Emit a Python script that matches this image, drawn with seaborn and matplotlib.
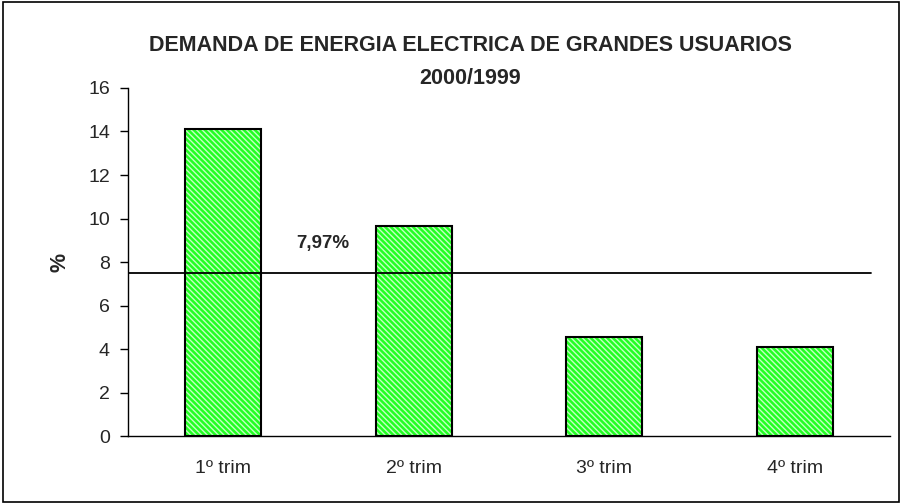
import pandas as pd
import seaborn as sns
import matplotlib.pyplot as plt
from matplotlib.patches import Rectangle

sns.set_theme(style="white")
plt.rcParams["font.family"] = ["Liberation Sans", "DejaVu Sans"]
plt.rcParams["hatch.linewidth"] = 1.0

## Data
trimestres = ["1º trim", "2º trim", "3º trim", "4º trim"]
variacion = [14.1, 9.65, 4.55, 4.1]
promedio_linea = 7.5
promedio_texto = "7,97%"

df = pd.DataFrame({"Trimestre": trimestres, "Variacion": variacion})

fig = plt.figure(figsize=(9.02, 5.04), dpi=100)
ax = fig.add_axes([0.1419, 0.1349, 0.8448, 0.6905])

# hatched green fill
sns.barplot(data=df, x="Trimestre", y="Variacion", ax=ax, width=0.4,
            color="#22ff22", saturation=1, edgecolor="#c4ffc4",
            linewidth=0, hatch="\\\\\\\\\\\\", zorder=2)
# black outline
sns.barplot(data=df, x="Trimestre", y="Variacion", ax=ax, width=0.4,
            fill=False, edgecolor="black", linewidth=1.5, zorder=3)

ax.plot([-0.5, 3.4], [promedio_linea, promedio_linea], color="black", lw=1.3, zorder=4)
ax.text(0.523, 8.83, promedio_texto, fontsize=13.5, fontweight="bold",
        ha="center", va="center")

ax.set_xlim(-0.5, 3.5)
ax.set_ylim(0, 16)
ax.set_yticks(range(0, 17, 2))
ax.set_xticks([-0.5, 0.5, 1.5, 2.5, 3.5])
ax.set_xticklabels([])
ax.set_xticks(range(len(trimestres)), minor=True)
ax.set_xticklabels(trimestres, minor=True, fontsize=14)
ax.tick_params(axis="x", which="major", direction="inout", length=10, width=1, color="black")
ax.tick_params(axis="x", which="minor", length=0, pad=17)
ax.tick_params(axis="y", direction="out", length=6, width=1, color="black",
               labelsize=14, pad=7, left=True)
ax.set_xlabel("")
ax.set_ylabel("%", fontsize=15.5, fontweight="bold")
ax.yaxis.set_label_coords(-0.076, 0.5)

for s in ["top", "right"]:
    ax.spines[s].set_visible(False)
for s in ["left", "bottom"]:
    ax.spines[s].set_color("black")
    ax.spines[s].set_linewidth(1)

fig.text(0.521, 0.909, "DEMANDA DE ENERGIA ELECTRICA DE GRANDES USUARIOS",
         ha="center", va="center", fontsize=15.5, fontweight="bold")
fig.text(0.521, 0.845, "2000/1999", ha="center", va="center",
         fontsize=15.5, fontweight="bold")

fig.patches.append(Rectangle((0.003, 0.004), 0.994, 0.992, transform=fig.transFigure,
                             fill=False, edgecolor="black", linewidth=1.2))

fig.savefig("out.png", dpi=100)
